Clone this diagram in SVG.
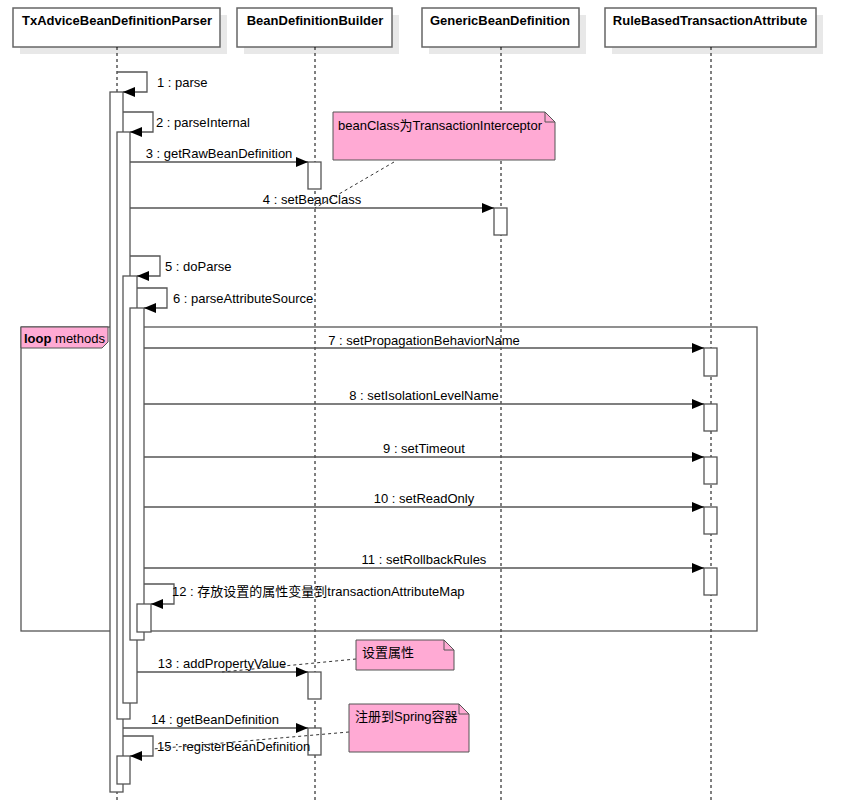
<svg xmlns="http://www.w3.org/2000/svg" width="843" height="803" viewBox="0 0 843 803">
<style>
text{font-family:"Liberation Sans",Arial,"Noto Sans CJK SC",sans-serif;font-size:13px;fill:#000}
.hd{font-weight:bold;text-anchor:middle}
.hb{fill:#fff;stroke:#666;stroke-width:1.5}
.sh{fill:#e8e8e8}
.ll{stroke:#000;stroke-dasharray:3,3;fill:none}
.act{fill:#fff;stroke:#555;stroke-width:1.3}
.m{stroke:#555;stroke-width:1.3;fill:none}
.note{fill:#ffaad4;stroke:#555;stroke-width:1}
.nl{stroke:#333;stroke-dasharray:3,3;fill:none}
.c{text-anchor:middle}
</style>
<defs><marker id="ar" markerWidth="12" markerHeight="10" refX="12" refY="5" orient="auto" markerUnits="userSpaceOnUse"><path d="M0,0L12,5L0,10z" fill="#000"/></marker></defs>
<g id="heads">
<rect class="sh" x="20" y="15" width="207" height="39"/><rect class="hb" x="13" y="8" width="207" height="39"/><text class="hd" x="117" y="25">TxAdviceBeanDefinitionParser</text>
<rect class="sh" x="244" y="15" width="155" height="39"/><rect class="hb" x="237" y="8" width="155" height="39"/><text class="hd" x="315" y="25">BeanDefinitionBuilder</text>
<rect class="sh" x="429" y="15" width="157" height="39"/><rect class="hb" x="422" y="8" width="157" height="39"/><text class="hd" x="500" y="25">GenericBeanDefinition</text>
<rect class="sh" x="612" y="15" width="211" height="39"/><rect class="hb" x="605" y="8" width="211" height="39"/><text class="hd" x="710" y="25">RuleBasedTransactionAttribute</text>
</g>
<g id="lifelines">
<line class="ll" x1="117" y1="47" x2="117" y2="803"/>
<line class="ll" x1="315" y1="47" x2="315" y2="803"/>
<line class="ll" x1="501" y1="47" x2="501" y2="803"/>
<line class="ll" x1="711" y1="47" x2="711" y2="803"/>
</g>
<g id="loop">
<rect x="21" y="327" width="736" height="304" fill="none" stroke="#555" stroke-width="1.3"/>
<path d="M21,327H108V342L102,348H21z" class="note"/>
<text x="24" y="343"><tspan font-weight="bold">loop</tspan> methods</text>
</g>
<g id="activations">
<rect class="act" x="110" y="92" width="13" height="700"/>
<rect class="act" x="117" y="132" width="13" height="587"/>
<rect class="act" x="123" y="276" width="14" height="427"/>
<rect class="act" x="130" y="308" width="14" height="332"/>
<rect class="act" x="137" y="604" width="14" height="28"/>
<rect class="act" x="117" y="756" width="13" height="28"/>
<rect class="act" x="308" y="162" width="13" height="27"/>
<rect class="act" x="494" y="208" width="13" height="27"/>
<rect class="act" x="704" y="348" width="13" height="28"/>
<rect class="act" x="704" y="404" width="13" height="27"/>
<rect class="act" x="704" y="457" width="13" height="27"/>
<rect class="act" x="704" y="507" width="13" height="27"/>
<rect class="act" x="704" y="568" width="13" height="27"/>
<rect class="act" x="308" y="672" width="13" height="27"/>
<rect class="act" x="308" y="728" width="13" height="27"/>
</g>
<g id="connectors">
<path class="m" d="M117,72H147V92H123" marker-end="url(#ar)"/><text x="157" y="87">1 : parse</text>
<path class="m" d="M123,112H153V132H130" marker-end="url(#ar)"/><text x="156" y="127">2 : parseInternal</text>
<path class="m" d="M130,162H308" marker-end="url(#ar)"/><text class="c" x="219" y="158">3 : getRawBeanDefinition</text>
<path class="m" d="M130,208H494" marker-end="url(#ar)"/><text class="c" x="312" y="204">4 : setBeanClass</text>
<path class="m" d="M130,256H160V276H137" marker-end="url(#ar)"/><text x="165" y="271">5 : doParse</text>
<path class="m" d="M137,288H167V308H144" marker-end="url(#ar)"/><text x="173" y="303">6 : parseAttributeSource</text>
<path class="m" d="M144,348H704" marker-end="url(#ar)"/><text class="c" x="424" y="345">7 : setPropagationBehaviorName</text>
<path class="m" d="M144,404H704" marker-end="url(#ar)"/><text class="c" x="424" y="400">8 : setIsolationLevelName</text>
<path class="m" d="M144,457H704" marker-end="url(#ar)"/><text class="c" x="424" y="453">9 : setTimeout</text>
<path class="m" d="M144,507H704" marker-end="url(#ar)"/><text class="c" x="424" y="503">10 : setReadOnly</text>
<path class="m" d="M144,568H704" marker-end="url(#ar)"/><text class="c" x="424" y="564">11 : setRollbackRules</text>
<path class="m" d="M144,584H174V604H151" marker-end="url(#ar)"/><text x="172" y="596">12 : 存放设置的属性变量到transactionAttributeMap</text>
<path class="m" d="M137,672H308" marker-end="url(#ar)"/><text class="c" x="222" y="668">13 : addPropertyValue</text>
<path class="m" d="M123,728H308" marker-end="url(#ar)"/><text class="c" x="215" y="724">14 : getBeanDefinition</text>
<path class="m" d="M123,736H153V756H130" marker-end="url(#ar)"/><text x="157" y="751">15 : registerBeanDefinition</text>
<path class="nl" d="M394,162L315,208"/>
<path class="nl" d="M356,659L222,672"/>
<path class="nl" d="M349,732L153,749"/>
</g>
<g id="note1"><path class="note" d="M333,112H545L555,122V160H333z"/><path d="M545,112V122H555" fill="none" stroke="#555"/><text x="338" y="130">beanClass为TransactionInterceptor</text></g>
<g id="note2"><path class="note" d="M356,640H444L454,650V670H356z"/><path d="M444,640V650H454" fill="none" stroke="#555"/><text x="362" y="657">设置属性</text></g>
<g id="note3"><path class="note" d="M349,704H459L469,714V752H349z"/><path d="M459,704V714H469" fill="none" stroke="#555"/><text x="355" y="721">注册到Spring容器</text></g>
</svg>
